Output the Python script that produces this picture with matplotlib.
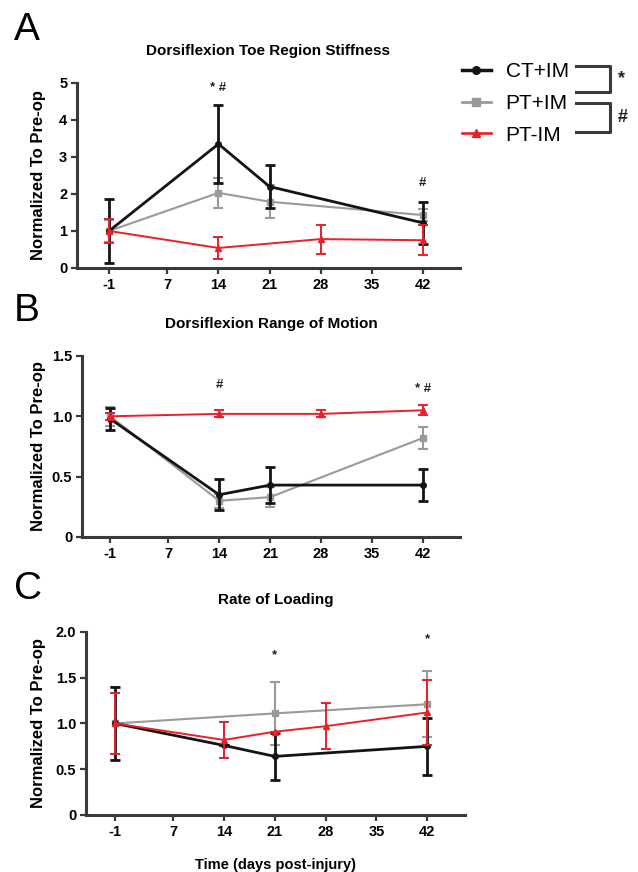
import numpy as np
import matplotlib
matplotlib.use("Agg")
import matplotlib.pyplot as plt
from matplotlib.lines import Line2D

plt.rcParams['font.family'] = ['Liberation Sans', 'DejaVu Sans']

## data (nan = no point at that day)
nan = np.nan
days = [-1, 14, 21, 28, 42]
xticks = [-1, 7, 14, 21, 28, 35, 42]
groups = ['CT+IM', 'PT+IM', 'PT-IM']

# A) Dorsiflexion toe region stiffness
ct_a = [1.00, 3.35, 2.20, nan, 1.22]
ct_a_err = [0.87, 1.05, 0.59, nan, 0.57]
pt_a = [1.00, 2.03, 1.79, nan, 1.43]
pt_a_err = [0.30, 0.40, 0.44, nan, 0.15]
mi_a = [1.00, 0.54, nan, 0.78, 0.75]
mi_a_err = [0.33, 0.29, nan, 0.39, 0.40]

# B) Dorsiflexion range of motion
ct_b = [0.98, 0.35, 0.43, nan, 0.43]
ct_b_err = [0.09, 0.13, 0.15, nan, 0.13]
pt_b = [1.00, 0.30, 0.33, nan, 0.82]
pt_b_err = [0.08, 0.06, 0.08, nan, 0.09]
mi_b = [1.00, 1.02, nan, 1.02, 1.05]
mi_b_err = [0.03, 0.03, nan, 0.03, 0.04]

# C) Rate of loading
ct_c = [1.00, 0.76, 0.64, nan, 0.75]
ct_c_err = [0.40, 0.0, 0.26, nan, 0.31]
pt_c = [1.00, nan, 1.11, nan, 1.21]
pt_c_err = [0.40, nan, 0.34, nan, 0.36]
mi_c = [1.00, 0.82, 0.91, 0.97, 1.12]
mi_c_err = [0.33, 0.20, 0.0, 0.25, 0.35]

# significance marks (text, day, y)
marks_a = [('* #', 14, 4.85), ('#', 42, 2.3)]
marks_b = [('#', 14, 1.26), ('* #', 42, 1.23)]
marks_c = [('*', 21, 1.75), ('*', 42, 1.92)]

yt_a = [0, 1, 2, 3, 4, 5]
yt_a_lab = ['0', '1', '2', '3', '4', '5']
yt_b = [0, 0.5, 1.0, 1.5]
yt_b_lab = ['0', '0.5', '1.0', '1.5']
yt_c = [0, 0.5, 1.0, 1.5, 2.0]
yt_c_lab = ['0', '0.5', '1.0', '1.5', '2.0']

## styles
styles = {
    'CT+IM': dict(color='#141414', marker='o', ms=4, lw=2.0, z=3),
    'PT+IM': dict(color='#9a9a9a', marker='s', ms=3.8, lw=1.5, z=2),
    'PT-IM': dict(color='#e8202a', marker='^', ms=4, lw=1.4, z=4),
}
spine_col = '#3a3a3a'


def draw_series(ax, name, vals, errs):
    st = styles[name]
    x = np.array(days, float)
    y = np.array(vals, float)
    e = np.array(errs, float)
    ok = ~np.isnan(y)
    ax.errorbar(x[ok], y[ok], yerr=e[ok], color=st['color'], marker=st['marker'],
                ms=st['ms'], lw=st['lw'], elinewidth=st['lw'], capsize=3.5,
                capthick=st['lw'], zorder=st['z'], clip_on=False)


def style_axes(ax, title, ylim, yt, ytl, xlim):
    ax.set_xlim(*xlim)
    ax.set_ylim(*ylim)
    for s in ['top', 'right']:
        ax.spines[s].set_visible(False)
    for s in ['left', 'bottom']:
        ax.spines[s].set_linewidth(2.2)
        ax.spines[s].set_color(spine_col)
    ax.set_xticks(xticks)
    ax.set_xticklabels([str(t) for t in xticks], fontweight='bold', fontsize=10.5)
    ax.set_yticks(yt)
    ax.set_yticklabels(ytl, fontweight='bold', fontsize=10.5)
    ax.tick_params(direction='out', length=4, width=1.6, color=spine_col, pad=3)
    ax.set_ylabel('Normalized To Pre-op', fontweight='bold', fontsize=12, labelpad=2)
    ax.set_title(title, fontweight='bold', fontsize=11, pad=20)


def add_marks(ax, marks):
    for txt, d, y in marks:
        ax.text(d, y, txt, ha='center', va='center', fontsize=9.5, fontweight='bold',
                color='#222222')


fig = plt.figure(figsize=(6.38, 8.72), dpi=100)

ax_a = fig.add_axes([0.1207, 0.6927, 0.600, 0.2122])
ax_b = fig.add_axes([0.1285, 0.3842, 0.5925, 0.2076])
ax_c = fig.add_axes([0.1348, 0.0654, 0.594, 0.2099])

panels = [
    (ax_a, 'Dorsiflexion Toe Region Stiffness', (0, 5), yt_a, yt_a_lab, (-5.4, 47.1),
     [ct_a, pt_a, mi_a], [ct_a_err, pt_a_err, mi_a_err], marks_a),
    (ax_b, 'Dorsiflexion Range of Motion', (0, 1.5), yt_b, yt_b_lab, (-4.85, 47.1),
     [ct_b, pt_b, mi_b], [ct_b_err, pt_b_err, mi_b_err], marks_b),
    (ax_c, 'Rate of Loading', (0, 2.0), yt_c, yt_c_lab, (-5.0, 47.2),
     [ct_c, pt_c, mi_c], [ct_c_err, pt_c_err, mi_c_err], marks_c),
]

for ax, title, ylim, yt, ytl, xlim, vals, errs, marks in panels:
    style_axes(ax, title, ylim, yt, ytl, xlim)
    for name, v, e in zip(groups, vals, errs):
        draw_series(ax, name, v, e)
    add_marks(ax, marks)

ax_c.set_xlabel('Time (days post-injury)', fontweight='bold', fontsize=10.5, labelpad=14)

# same label x position for all three panels
for ax in (ax_a, ax_b, ax_c):
    ax.yaxis.set_label_coords(-(ax.get_position().x0 - 46 / 638) / ax.get_position().width, 0.5)

# panel letters
for letter, y in [('A', 0.966), ('B', 0.643), ('C', 0.325)]:
    fig.text(0.022, y, letter, fontsize=28, ha='left', va='center')

# legend
handles = [Line2D([], [], color=styles[g]['color'], marker=styles[g]['marker'],
                  ms=styles[g]['ms'] + 1.5, lw=styles[g]['lw'] + 0.5) for g in groups]
fig.legend(handles, groups, loc='upper left', bbox_to_anchor=(0.724, 0.929),
           frameon=False, fontsize=15, handlelength=1.4, handletextpad=0.7,
           labelspacing=0.62, borderpad=0, borderaxespad=0)

# brackets next to legend
bx0, bx1 = 576 / 638, 610 / 638
lw_br = 2.2
def px(y):
    return 1 - y / 872
for y0, y1, sym, ys in [(66, 92, '*', 79), (103, 132, '#', 117)]:
    fig.add_artist(Line2D([bx0, bx1, bx1, bx0], [px(y0), px(y0), px(y1), px(y1)],
                          color=spine_col, lw=lw_br))
    fig.text(bx1 + 0.012, px(ys), sym, fontsize=13, fontweight='bold',
             ha='left', va='center', color='#222222')

fig.savefig('out.png', dpi=100)
